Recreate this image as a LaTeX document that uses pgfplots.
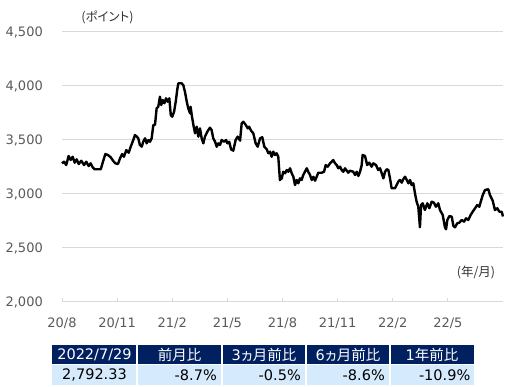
\documentclass[border=0pt]{standalone}
\usepackage{pgfplots}
\pgfplotsset{compat=1.18}
\usepackage{fontspec}
\setmainfont{DejaVu Sans}
\newfontfamily\jp[RawFeature=+palt]{Noto Sans CJK JP}
\definecolor{navy}{HTML}{002060}
\definecolor{lightblue}{HTML}{D6EAFD}
\definecolor{ticktext}{HTML}{595959}
\definecolor{gridc}{HTML}{D9D9D9}
\definecolor{labtext}{HTML}{333333}

\pgfplotstableread{
m v
0.00 3284
0.11 3299
0.23 3268
0.36 3352
0.47 3315
0.58 3345
0.69 3290
0.80 3321
0.91 3278
1.05 3308
1.20 3268
1.32 3299
1.45 3259
1.56 3284
1.67 3247
1.78 3229
1.96 3229
2.11 3229
2.23 3299
2.36 3370
2.50 3361
2.65 3340
2.78 3308
2.90 3284
3.05 3278
3.16 3331
3.27 3370
3.37 3345
3.50 3407
3.63 3382
3.74 3438
3.88 3500
3.97 3546
4.07 3531
4.15 3516
4.24 3454
4.34 3438
4.42 3484
4.52 3516
4.61 3469
4.70 3500
4.79 3484
4.88 3516
4.97 3639
5.06 3639
5.15 3793
5.24 3808
5.33 3901
5.40 3824
5.48 3870
5.57 3840
5.66 3886
5.75 3855
5.84 3886
5.92 3731
6.00 3716
6.10 3762
6.19 3855
6.27 3963
6.33 4025
6.51 4025
6.60 4009
6.69 3947
6.79 3855
6.87 3793
6.97 3747
7.00 3808
7.06 3731
7.15 3639
7.24 3562
7.33 3623
7.42 3531
7.51 3608
7.60 3516
7.69 3469
7.78 3531
7.91 3577
8.05 3614
8.14 3593
8.23 3516
8.33 3484
8.42 3438
8.51 3469
8.60 3454
8.69 3500
8.82 3484
8.93 3500
9.00 3469
9.10 3484
9.20 3414
9.32 3401
9.45 3500
9.56 3531
9.69 3494
9.78 3655
9.87 3669
10.00 3639
10.11 3608
10.18 3623
10.29 3586
10.41 3562
10.54 3469
10.65 3438
10.78 3516
10.90 3525
11.01 3438
11.14 3414
11.23 3377
11.32 3392
11.41 3345
11.50 3392
11.59 3361
11.68 3377
11.77 3345
11.86 3130
11.96 3145
12.04 3206
12.14 3192
12.23 3222
12.32 3206
12.41 3238
12.50 3192
12.59 3160
12.68 3083
12.77 3130
12.86 3099
12.95 3145
13.04 3130
13.13 3176
13.22 3206
13.32 3238
13.40 3206
13.50 3176
13.59 3130
13.68 3160
13.77 3123
13.86 3160
13.95 3197
14.13 3197
14.26 3206
14.35 3268
14.46 3253
14.59 3284
14.68 3299
14.76 3315
14.86 3284
14.95 3268
15.04 3238
15.13 3253
15.22 3222
15.31 3206
15.40 3238
15.58 3197
15.67 3216
15.85 3206
15.95 3176
16.04 3206
16.13 3167
16.22 3206
16.31 3268
16.36 3361
16.49 3352
16.61 3268
16.72 3290
16.85 3253
16.94 3284
17.09 3268
17.21 3222
17.31 3238
17.40 3192
17.49 3145
17.58 3206
17.67 3229
17.76 3222
17.85 3145
17.94 3053
18.12 3053
18.21 3083
18.30 3114
18.39 3130
18.49 3105
18.57 3136
18.67 3160
18.76 3130
18.85 3099
18.94 3130
19.03 3083
19.12 3099
19.21 3006
19.30 2929
19.39 2882
19.48 2692
19.54 2898
19.63 2914
19.75 2852
19.88 2914
19.99 2868
20.12 2929
20.24 2919
20.35 2882
20.48 2914
20.57 2852
20.72 2806
20.84 2692
20.90 2673
20.97 2759
21.08 2796
21.21 2790
21.30 2704
21.39 2692
21.51 2729
21.62 2734
21.75 2759
21.88 2744
21.99 2775
22.11 2759
22.24 2806
22.35 2836
22.48 2868
22.60 2898
22.71 2882
22.79 2929
22.90 2991
23.02 3037
23.20 3044
23.29 2991
23.44 2938
23.56 2852
23.69 2868
23.80 2836
23.93 2836
24.00 2792
}\indexdata

\begin{document}
\begin{tikzpicture}[x=1pt,y=1pt]
\path[use as bounding box] (0,0) rectangle (528,-387);
\begin{axis}[
  at={(62pt,-302pt)}, anchor=south west,
  width=441pt, height=270pt, scale only axis,
  xmin=0, xmax=24, ymin=2000, ymax=4500,
  xtick={0,3,...,21},
  xticklabels={20/8,20/11,21/2,21/5,21/8,21/11,22/2,22/5},
  ytick={2000,2500,...,4500},
  scaled y ticks=false,
  /pgf/number format/.cd, 1000 sep={,}, assume math mode=true, /pgfplots/.cd,
  axis lines*=left,
  y axis line style={draw=none},
  x axis line style={gridc, line width=1pt},
  ytick style={draw=none},
  xtick style={gridc, line width=1pt},
  tick align=inside,
  major tick length=4pt,
  ymajorgrids,
  major grid style={gridc, line width=1pt},
  yticklabel style={font=\fontsize{13}{15}\selectfont, text=ticktext, anchor=east, inner sep=0pt, xshift=-19pt},
  xticklabel style={font=\fontsize{13}{15}\selectfont, text=ticktext, anchor=center, inner sep=0pt, yshift=-21.5pt},
  clip=false,
]
\addplot[black, line width=2.4pt, line join=round, mark=none] table[x=m, y=v] {\indexdata};
\end{axis}
\node[text=labtext, font=\jp\fontsize{12.5}{14}\selectfont, inner sep=0pt] at (107.5,-17) {(ポイント)};
\node[text=labtext, font=\jp\fontsize{12.5}{14}\selectfont, inner sep=0pt] at (476,-272.3) {(年/月)};
% table
\fill[navy] (52,-345) rectangle (474,-364.5);
\fill[lightblue] (52,-364.5) rectangle (474,-385.5);
\foreach \xx in {137,222,306,390} {\draw[white, line width=1.2pt] (\xx,-345) -- (\xx,-385.5);}
\draw[white, line width=0.8pt] (52,-364.5) -- (474,-364.5);
\begin{scope}[every node/.style={inner sep=0pt, font=\fontsize{14.5}{17}\selectfont}]
\node[text=white] at (94.5,-355) {2022/7/29};
\node[text=white] at (179.5,-355) {\jp 前月比};
\node[text=white] at (264,-355) {3\jp ヵ月前比};
\node[text=white] at (348,-355) {6\jp ヵ月前比};
\node[text=white] at (432,-355) {1\jp 年前比};
\node[anchor=east] at (127,-375) {2,792.33};
\node[anchor=east] at (217,-375) {-8.7\%};
\node[anchor=east] at (301,-375) {-0.5\%};
\node[anchor=east] at (385,-375) {-8.6\%};
\node[anchor=east] at (470.5,-375) {-10.9\%};
\end{scope}
\end{tikzpicture}
\end{document}
